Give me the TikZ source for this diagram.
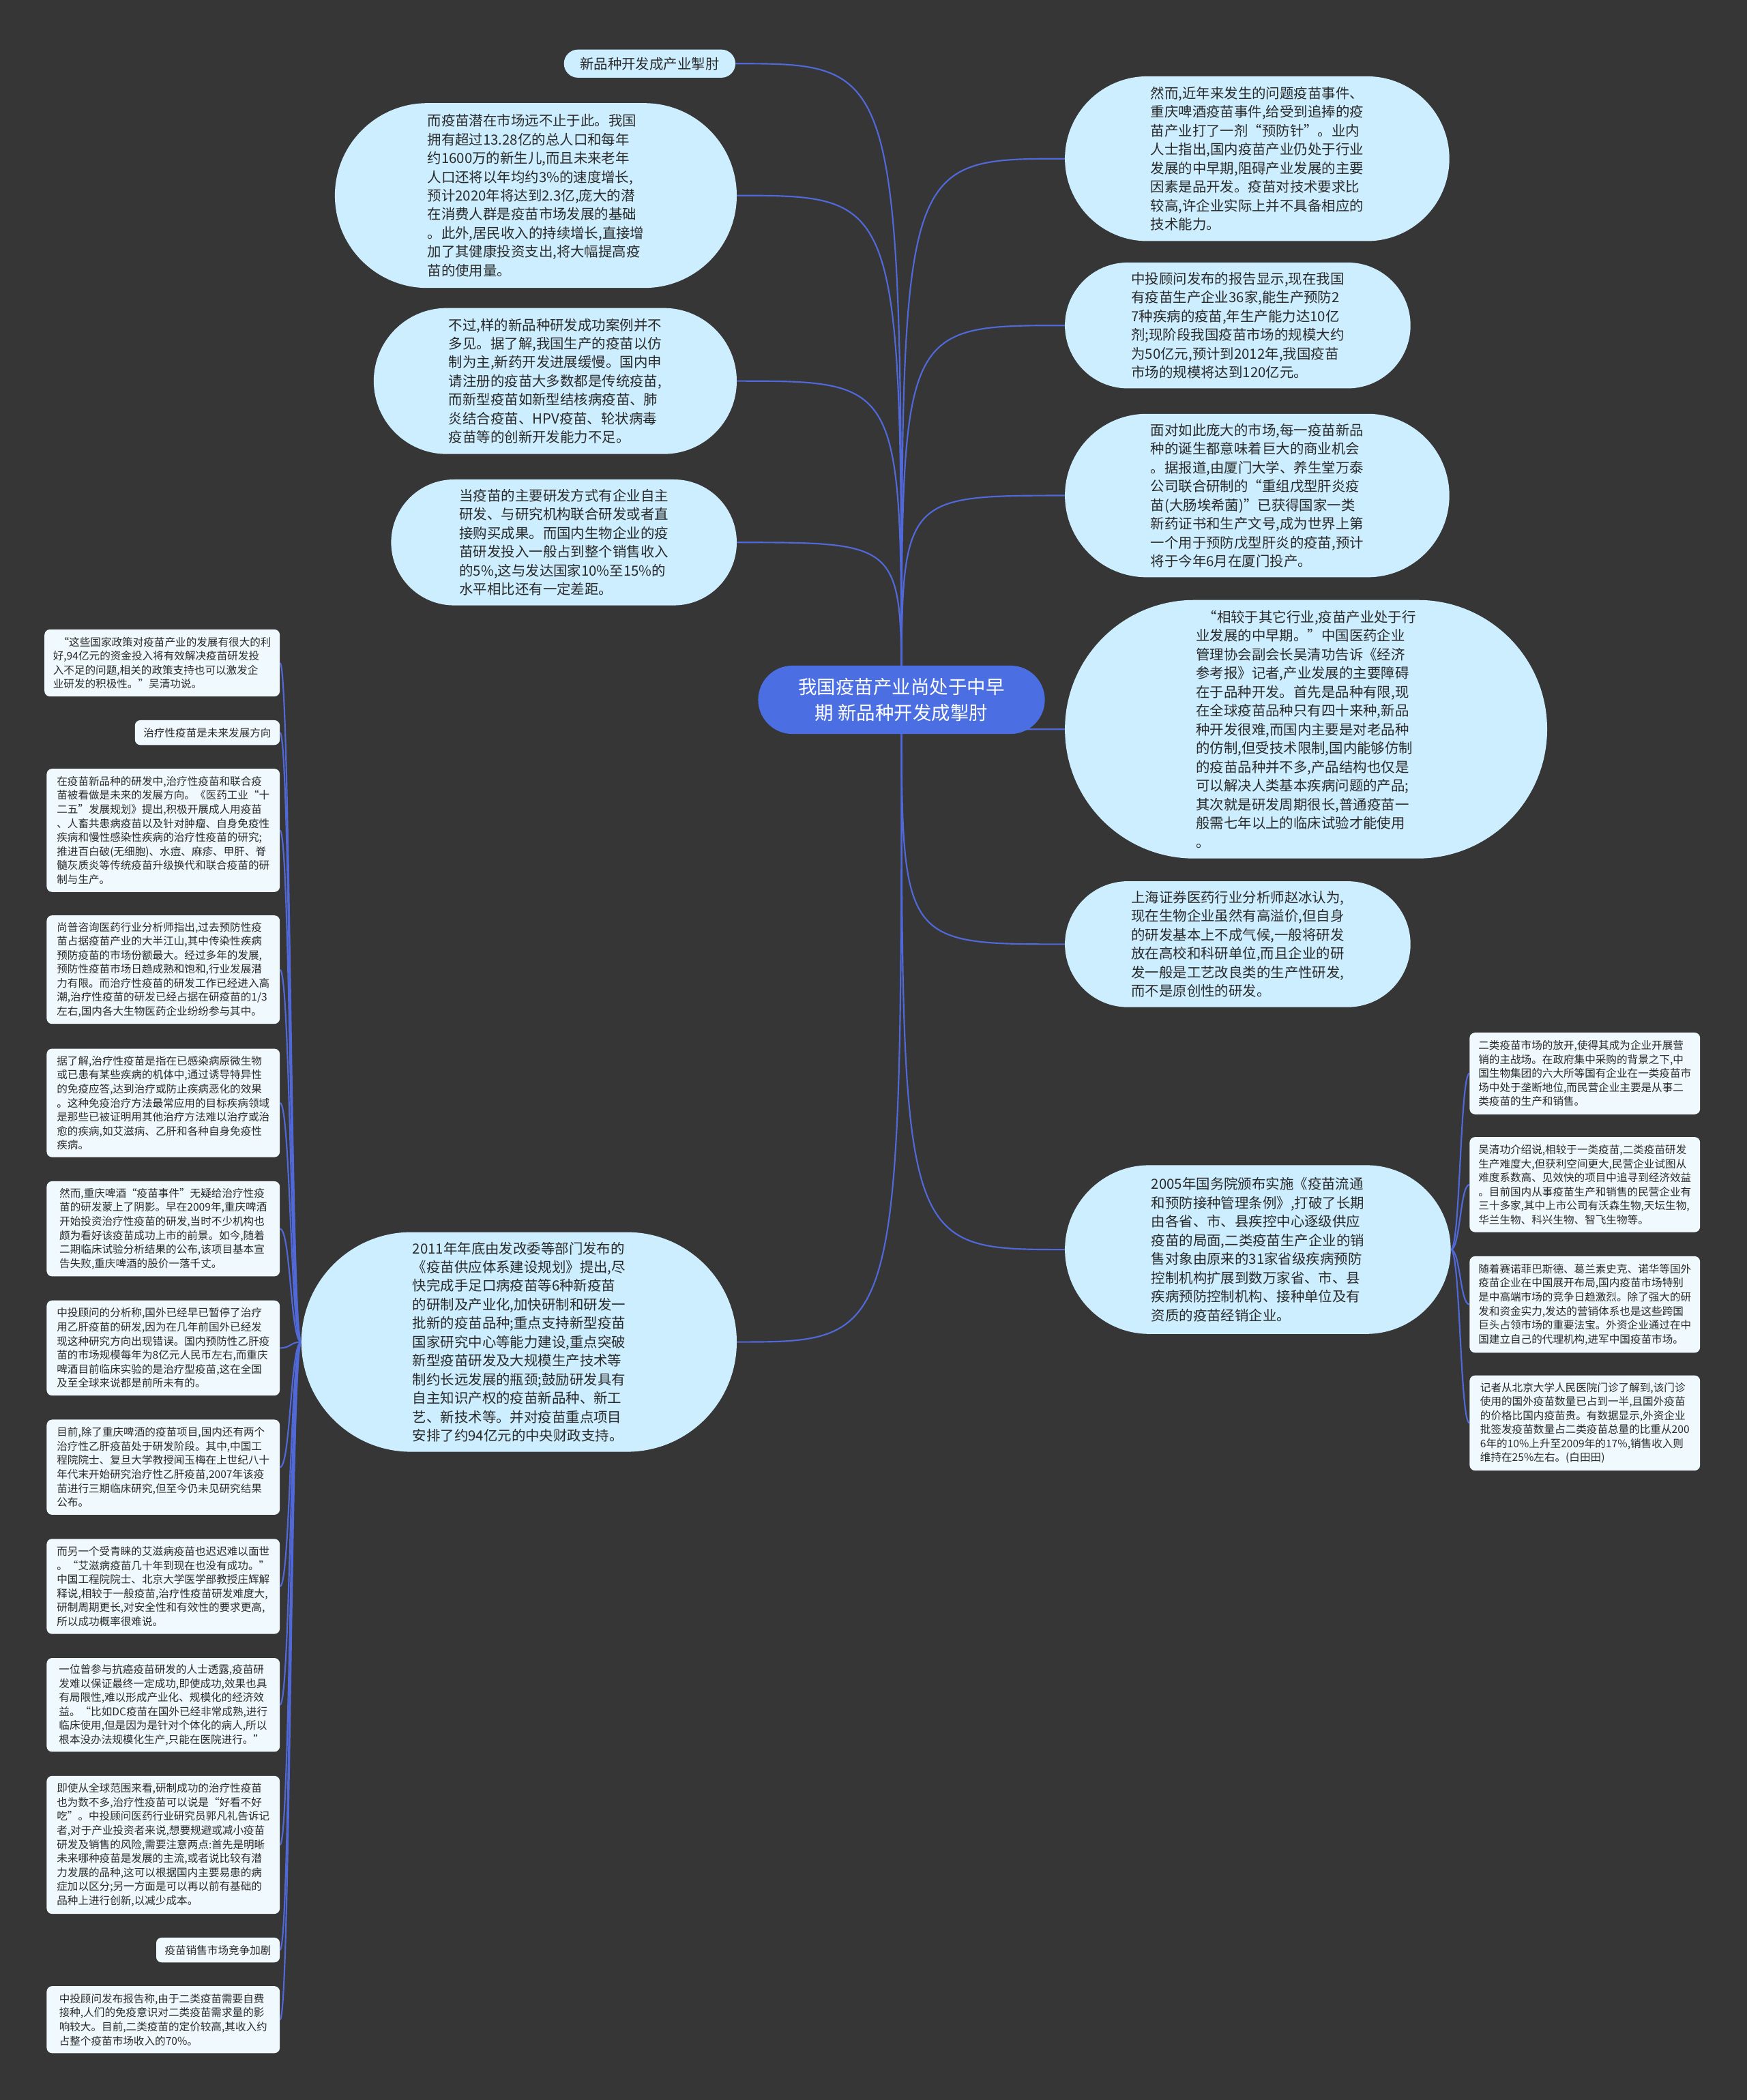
\documentclass[tikz,border=0pt]{standalone}
\usepackage{fontspec}
\setmainfont{Noto Sans CJK SC}

\definecolor{canvas}{HTML}{363636}
\definecolor{bubblefill}{HTML}{CDEEFF}
\definecolor{notefill}{HTML}{F0FAFE}
\definecolor{hubfill}{HTML}{4B6FE3}
\definecolor{linkblue}{HTML}{5068D8}
\definecolor{ink}{HTML}{2A2A2A}

\pgfdeclarelayer{bg}
\pgfsetlayers{bg,main}

\tikzset{
  bubble/.style 2 args={fill=bubblefill, text=ink, align=left, inner sep=0pt,
    minimum width=#1*0.5mm, minimum height=#2*0.5mm, rounded corners=#2*0.25mm,
    font=\fontsize{14.8}{19.9}\selectfont},
  note/.style 2 args={fill=notefill, text=ink, align=left, inner xsep=3.2mm, inner ysep=0pt,
    minimum width=#1*0.5mm, minimum height=#2*0.5mm, rounded corners=2mm,
    font=\fontsize{11.3}{14.9}\selectfont},
  hub/.style={fill=hubfill, text=white, align=center, inner sep=0pt,
    minimum width=107mm, minimum height=25.5mm, rounded corners=12.75mm,
    font=\fontsize{19.9}{27}\selectfont},
  link/.style={draw=linkblue, line width=0.55mm}
}

\begin{document}
\begin{tikzpicture}[x=0.5mm,y=-0.5mm]
\useasboundingbox (0,0) rectangle (1304,1568);

\node[hub] (hub) at (673,522.5) {我国疫苗产业尚处于中早\\期 新品种开发成掣肘};

% left side
\node[bubble={128}{21}] (bottleneck) at (485,47.5) {新品种开发成产业掣肘};
\node[bubble={300}{138}] (market) at (400,146) {而疫苗潜在市场远不止于此。我国\\拥有超过13.28亿的总人口和每年\\约1600万的新生儿,而且未来老年\\人口还将以年均约3\%的速度增长,\\预计2020年将达到2.3亿,庞大的潜\\在消费人群是疫苗市场发展的基础\\。此外,居民收入的持续增长,直接增\\加了其健康投资支出,将大幅提高疫\\苗的使用量。};
\node[bubble={271}{109}] (rarity) at (414.5,284.5) {不过,样的新品种研发成功案例并不\\多见。据了解,我国生产的疫苗以仿\\制为主,新药开发进展缓慢。国内申\\请注册的疫苗大多数都是传统疫苗,\\而新型疫苗如新型结核病疫苗、肺\\炎结合疫苗、HPV疫苗、轮状病毒\\疫苗等的创新开发能力不足。};
\node[bubble={258}{94}] (funding) at (421,405) {当疫苗的主要研发方式有企业自主\\研发、与研究机构联合研发或者直\\接购买成果。而国内生物企业的疫\\苗研发投入一般占到整个销售收入\\的5\%,这与发达国家10\%至15\%的\\水平相比还有一定差距。};
\node[bubble={325}{164}] (plan) at (387.5,1002) {2011年年底由发改委等部门发布的\\《疫苗供应体系建设规划》提出,尽\\快完成手足口病疫苗等6种新疫苗\\的研制及产业化,加快研制和研发一\\批新的疫苗品种;重点支持新型疫苗\\国家研究中心等能力建设,重点突破\\新型疫苗研发及大规模生产技术等\\制约长远发展的瓶颈;鼓励研发具有\\自主知识产权的疫苗新品种、新工\\艺、新技术等。并对疫苗重点项目\\安排了约94亿元的中央财政支持。};

% right side
\node[bubble={287}{123}] (incidents) at (938.5,118.5) {然而,近年来发生的问题疫苗事件、\\重庆啤酒疫苗事件,给受到追捧的疫\\苗产业打了一剂“预防针”。业内\\人士指出,国内疫苗产业仍处于行业\\发展的中早期,阻碍产业发展的主要\\因素是品开发。疫苗对技术要求比\\较高,许企业实际上并不具备相应的\\技术能力。};
\node[bubble={258}{94}] (scale) at (924,243) {中投顾问发布的报告显示,现在我国\\有疫苗生产企业36家,能生产预防2\\7种疾病的疫苗,年生产能力达10亿\\剂;现阶段我国疫苗市场的规模大约\\为50亿元,预计到2012年,我国疫苗\\市场的规模将达到120亿元。};
\node[bubble={287}{122}] (hepatitis) at (938.5,370) {面对如此庞大的市场,每一疫苗新品\\种的诞生都意味着巨大的商业机会\\。据报道,由厦门大学、养生堂万泰\\公司联合研制的“重组戊型肝炎疫\\苗(大肠埃希菌)”已获得国家一类\\新药证书和生产文号,成为世界上第\\一个用于预防戊型肝炎的疫苗,预计\\将于今年6月在厦门投产。};
\node[bubble={360}{193}] (earlystage) at (975,544.5) {\hspace{0.5em}“相较于其它行业,疫苗产业处于行\\业发展的中早期。”中国医药企业\\管理协会副会长吴清功告诉《经济\\参考报》记者,产业发展的主要障碍\\在于品种开发。首先是品种有限,现\\在全球疫苗品种只有四十来种,新品\\种开发很难,而国内主要是对老品种\\的仿制,但受技术限制,国内能够仿制\\的疫苗品种并不多,产品结构也仅是\\可以解决人类基本疾病问题的产品;\\其次就是研发周期很长,普通疫苗一\\般需七年以上的临床试验才能使用\\。};
\node[bubble={258}{94}] (zhaobing) at (924,705) {上海证券医药行业分析师赵冰认为,\\现在生物企业虽然有高溢价,但自身\\的研发基本上不成气候,一般将研发\\放在高校和科研单位,而且企业的研\\发一般是工艺改良类的生产性研发,\\而不是原创性的研发。};
\node[bubble={288}{126}] (regulation) at (939,933) {2005年国务院颁布实施《疫苗流通\\和预防接种管理条例》,打破了长期\\由各省、市、县疾控中心逐级供应\\疫苗的局面,二类疫苗生产企业的销\\售对象由原来的31家省级疾病预防\\控制机构扩展到数万家省、市、县\\疾病预防控制机构、接种单位及有\\资质的疫苗经销企业。};

% notes under plan
\node[note={174}{50}, anchor=east] (q1) at (209,495) {\hspace{0.5em}“这些国家政策对疫苗产业的发展有很大的利\\好,94亿元的资金投入将有效解决疫苗研发投\\入不足的问题,相关的政策支持也可以激发企\\业研发的积极性。”吴清功说。};
\node[note={0}{18.5}, anchor=east] (q2) at (209,547) {治疗性疫苗是未来发展方向};
\node[note={174}{92}, anchor=east] (q3) at (209,620) {在疫苗新品种的研发中,治疗性疫苗和联合疫\\苗被看做是未来的发展方向。《医药工业“十\\二五”发展规划》提出,积极开展成人用疫苗\\、人畜共患病疫苗以及针对肿瘤、自身免疫性\\疾病和慢性感染性疾病的治疗性疫苗的研究;\\推进百白破(无细胞)、水痘、麻疹、甲肝、脊\\髓灰质炎等传统疫苗升级换代和联合疫苗的研\\制与生产。};
\node[note={174}{81}, anchor=east] (q4) at (209,724) {尚普咨询医药行业分析师指出,过去预防性疫\\苗占据疫苗产业的大半江山,其中传染性疾病\\预防疫苗的市场份额最大。经过多年的发展,\\预防性疫苗市场日趋成熟和饱和,行业发展潜\\力有限。而治疗性疫苗的研发工作已经进入高\\潮,治疗性疫苗的研发已经占据在研疫苗的1/3\\左右,国内各大生物医药企业纷纷参与其中。};
\node[note={174}{81}, anchor=east] (q5) at (209,823.5) {据了解,治疗性疫苗是指在已感染病原微生物\\或已患有某些疾病的机体中,通过诱导特异性\\的免疫应答,达到治疗或防止疾病恶化的效果\\。这种免疫治疗方法最常应用的目标疾病领域\\是那些已被证明用其他治疗方法难以治疗或治\\愈的疾病,如艾滋病、乙肝和各种自身免疫性\\疾病。};
\node[note={174}{71}, anchor=east] (q6) at (209,917.5) {然而,重庆啤酒“疫苗事件”无疑给治疗性疫\\苗的研发蒙上了阴影。早在2009年,重庆啤酒\\开始投资治疗性疫苗的研发,当时不少机构也\\颇为看好该疫苗成功上市的前景。如今,随着\\二期临床试验分析结果的公布,该项目基本宣\\告失败,重庆啤酒的股价一落千丈。};
\node[note={174}{71}, anchor=east] (q7) at (209,1006.5) {中投顾问的分析称,国外已经早已暂停了治疗\\用乙肝疫苗的研发,因为在几年前国外已经发\\现这种研究方向出现错误。国内预防性乙肝疫\\苗的市场规模每年为8亿元人民币左右,而重庆\\啤酒目前临床实验的是治疗型疫苗,这在全国\\及至全球来说都是前所未有的。};
\node[note={174}{71}, anchor=east] (q8) at (209,1095.5) {目前,除了重庆啤酒的疫苗项目,国内还有两个\\治疗性乙肝疫苗处于研发阶段。其中,中国工\\程院院士、复旦大学教授闻玉梅在上世纪八十\\年代末开始研究治疗性乙肝疫苗,2007年该疫\\苗进行三期临床研究,但至今仍未见研究结果\\公布。};
\node[note={174}{71}, anchor=east] (q9) at (209,1184.5) {而另一个受青睐的艾滋病疫苗也迟迟难以面世\\。“艾滋病疫苗几十年到现在也没有成功。”\\中国工程院院士、北京大学医学部教授庄辉解\\释说,相较于一般疫苗,治疗性疫苗研发难度大,\\研制周期更长,对安全性和有效性的要求更高,\\所以成功概率很难说。};
\node[note={174}{70}, anchor=east] (q10) at (209,1273) {一位曾参与抗癌疫苗研发的人士透露,疫苗研\\发难以保证最终一定成功,即使成功,效果也具\\有局限性,难以形成产业化、规模化的经济效\\益。“比如DC疫苗在国外已经非常成熟,进行\\临床使用,但是因为是针对个体化的病人,所以\\根本没办法规模化生产,只能在医院进行。”};
\node[note={174}{103}, anchor=east] (q11) at (209,1377.5) {即使从全球范围来看,研制成功的治疗性疫苗\\也为数不多,治疗性疫苗可以说是“好看不好\\吃”。中投顾问医药行业研究员郭凡礼告诉记\\者,对于产业投资者来说,想要规避或减小疫苗\\研发及销售的风险,需要注意两点:首先是明晰\\未来哪种疫苗是发展的主流,或者说比较有潜\\力发展的品种,这可以根据国内主要易患的病\\症加以区分;另一方面是可以再以前有基础的\\品种上进行创新,以减少成本。};
\node[note={0}{18.5}, anchor=east] (q12) at (209,1456) {疫苗销售市场竞争加剧};
\node[note={174}{50}, anchor=east] (q13) at (209,1508) {中投顾问发布报告称,由于二类疫苗需要自费\\接种,人们的免疫意识对二类疫苗需求量的影\\响较大。目前,二类疫苗的定价较高,其收入约\\占整个疫苗市场收入的70\%。};

% notes under regulation
\node[note={172}{61}, anchor=west] (s1) at (1097,801.5) {二类疫苗市场的放开,使得其成为企业开展营\\销的主战场。在政府集中采购的背景之下,中\\国生物集团的六大所等国有企业在一类疫苗市\\场中处于垄断地位,而民营企业主要是从事二\\类疫苗的生产和销售。};
\node[note={172}{71}, anchor=west] (s2) at (1097,884.5) {吴清功介绍说,相较于一类疫苗,二类疫苗研发\\生产难度大,但获利空间更大,民营企业试图从\\难度系数高、见效快的项目中追寻到经济效益\\。目前国内从事疫苗生产和销售的民营企业有\\三十多家,其中上市公司有沃森生物,天坛生物,\\华兰生物、科兴生物、智飞生物等。};
\node[note={172}{72}, anchor=west] (s3) at (1097,974) {随着赛诺菲巴斯德、葛兰素史克、诺华等国外\\疫苗企业在中国展开布局,国内疫苗市场特别\\是中高端市场的竞争日趋激烈。除了强大的研\\发和资金实力,发达的营销体系也是这些跨国\\巨头占领市场的重要法宝。外资企业通过在中\\国建立自己的代理机构,进军中国疫苗市场。};
\node[note={172}{71}, anchor=west] (s4) at (1097,1062.5) {记者从北京大学人民医院门诊了解到,该门诊\\使用的国外疫苗数量已占到一半,且国外疫苗\\的价格比国内疫苗贵。有数据显示,外资企业\\批签发疫苗数量占二类疫苗总量的比重从200\\6年的10\%上升至2009年的17\%,销售收入则\\维持在25\%左右。(白田田)};

\begin{pgfonlayer}{bg}
\fill[canvas] (0,0) rectangle (1304,1568);
% hub to branches
\foreach \kid in {bottleneck,market,rarity,funding,plan}
  \draw[link] (hub.center) .. controls (hub.center |- \kid.east) .. (\kid.east);
\foreach \kid in {incidents,scale,hepatitis,earlystage,zhaobing,regulation}
  \draw[link] (hub.center) .. controls (hub.center |- \kid.west) .. (\kid.west);
% plan to notes
\foreach \kid in {q1,q2,q3,q4,q5,q6,q7,q8,q9,q10,q11,q12,q13}
  \draw[link] (plan.west) .. controls +(-8,0) and +(8,0) .. (\kid.east);
% regulation to notes
\foreach \kid in {s1,s2,s3,s4}
  \draw[link] (regulation.east) .. controls +(7,0) and +(-7,0) .. (\kid.west);
\end{pgfonlayer}
\end{tikzpicture}
\end{document}
